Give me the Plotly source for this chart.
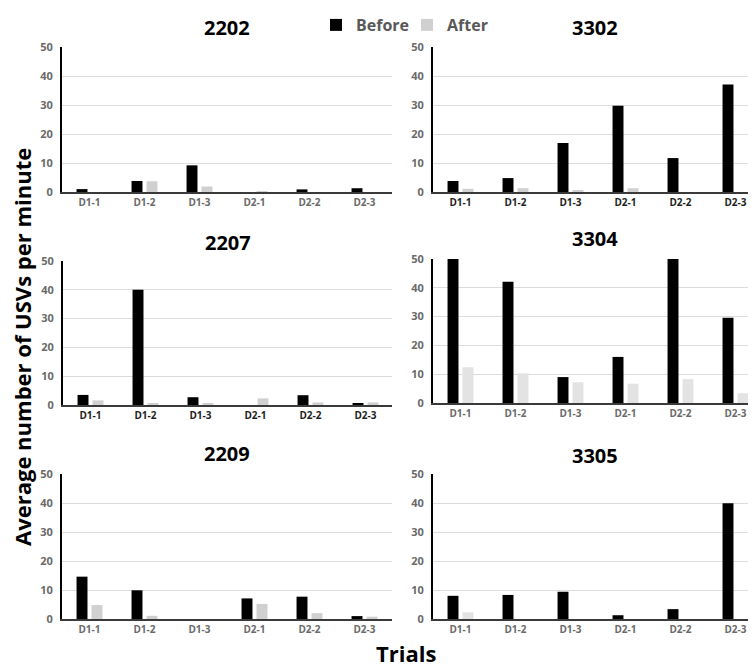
import plotly.graph_objects as go

categories = ["D1-1", "D1-2", "D1-3", "D2-1", "D2-2", "D2-3"]
panel_names = ["2202", "3302", "2207", "3304", "2209", "3305"]

before_2202 = [1.0, 3.8, 9.2, 0.0, 0.9, 1.3]
after_2202 = [0.0, 3.7, 1.9, 0.2, 0.0, 0.0]
before_3302 = [3.8, 4.8, 16.9, 29.7, 11.7, 37.1]
after_3302 = [1.1, 1.3, 0.6, 1.3, 0.0, 0.0]
before_2207 = [3.5, 40.0, 2.7, 0.0, 3.4, 0.5]
after_2207 = [1.6, 0.6, 0.6, 2.3, 0.9, 0.9]
before_3304 = [50.0, 42.1, 9.0, 16.0, 50.0, 29.6]
after_3304 = [12.4, 10.3, 7.2, 6.7, 8.3, 3.4]
before_2209 = [14.6, 9.9, 0.0, 7.1, 7.7, 1.0]
after_2209 = [4.8, 1.1, 0.0, 5.2, 2.0, 0.8]
before_3305 = [8.0, 8.3, 9.4, 1.3, 3.4, 39.9]
after_3305 = [2.3, 0.0, 0.0, 0.0, 0.0, 0.0]

before_all = [before_2202, before_3302, before_2207, before_3304, before_2209, before_3305]
after_all = [after_2202, after_3302, after_2207, after_3304, after_2209, after_3305]
y_ticks = [0, 10, 20, 30, 40, 50]

W, H = 756, 668
FONT = "Open Sans"
OFF = 8  # page body margin offset

# screen pixel geometry: (x0, x1, ytop, ybottom)
geom = [
    (62, 392, 47, 192),
    (433, 756, 47, 192),
    (63, 392, 261, 405),
    (433, 756, 259, 403),
    (62, 392, 474, 619),
    (433, 756, 474, 619),
]
title_y = [27, 27, 242, 238, 453, 455]
after_colors = ["#d0d0d0", "#d0d0d0", "#d0d0d0", "#e3e3e3", "#d0d0d0", "#e3e3e3"]
xtick_colors = ["#6a6a6a", "#1e1e1e", "#1e1e1e", "#6a6a6a", "#6a6a6a", "#6a6a6a"]


def px(x):
    return (x - OFF) / W


def py(y):
    return 1 - (y - OFF) / H


fig = go.Figure()
layout = dict(
    template="none",
    width=W, height=H,
    margin=dict(l=0, r=0, t=0, b=0, autoexpand=False),
    paper_bgcolor="white", plot_bgcolor="white",
    barmode="group", bargap=0.455, bargroupgap=0.27,
    font=dict(family=FONT),
    showlegend=True,
    legend=dict(orientation="h", x=px(316), xanchor="left", y=1, yanchor="top",
                font=dict(family=FONT, size=16, color="#595959"),
                itemwidth=30, entrywidth=46, entrywidthmode="pixels",
                tracegroupgap=0, bgcolor="rgba(0,0,0,0)", borderwidth=0),
)
annotations = []

for i, name in enumerate(panel_names):
    k = "" if i == 0 else str(i + 1)
    x0, x1, yt, yb = geom[i]
    ncat_px = 55.0
    rng_hi = -0.5 + (x1 - x0) / ncat_px
    fig.add_trace(go.Bar(x=categories, y=before_all[i], name="<b>Before</b>",
                         marker=dict(color="#000000", line=dict(width=0)),
                         xaxis="x" + k, yaxis="y" + k, showlegend=(i == 0),
                         legendgroup="b"))
    fig.add_trace(go.Bar(x=categories, y=after_all[i], name="<b>After</b>",
                         marker=dict(color=after_colors[i], line=dict(width=0)),
                         xaxis="x" + k, yaxis="y" + k, showlegend=(i == 0),
                         legendgroup="a"))
    layout["xaxis" + k] = dict(
        domain=[px(x0), px(x1)], anchor="y" + k, type="category",
        range=[-0.5, rng_hi], showline=True, linecolor="#3a3a3a", linewidth=2,
        showgrid=False, ticks="", fixedrange=True, automargin=False,
        tickvals=categories, ticktext=["<b>%s</b>" % c for c in categories],
        tickfont=dict(family=FONT, size=10, color=xtick_colors[i]),
    )
    layout["yaxis" + k] = dict(
        domain=[py(yb), py(yt)], anchor="x" + k,
        range=[0, 50], tickvals=y_ticks, ticktext=["<b>%d</b>" % v for v in y_ticks],
        showline=True, linecolor="#000000",
        linewidth=2, showgrid=True, gridcolor="#dcdcdc", gridwidth=1,
        zeroline=False, ticks="", fixedrange=True, automargin=False,
        ticklabelstandoff=5,
        tickfont=dict(family=FONT, size=11, color="#6a6a6a"),
    )
    annotations.append(dict(text="<b>%s</b>" % name, x=px((x0 + min(x1, x0 + 330)) / 2),
                            y=py(title_y[i]), xref="paper", yref="paper",
                            showarrow=False, xanchor="center", yanchor="middle",
                            font=dict(family=FONT, size=20, color="#000000")))

annotations.append(dict(text="<b>Average number of USVs per minute</b>", textangle=-90,
                        x=-3 / W, y=py(347), xref="paper", yref="paper",
                        showarrow=False, xanchor="left", yanchor="middle",
                        font=dict(family=FONT, size=22, color="#000000")))
annotations.append(dict(text="<b>Trials</b>", x=px(406), y=py(653),
                        xref="paper", yref="paper", showarrow=False,
                        xanchor="center", yanchor="middle",
                        font=dict(family=FONT, size=22, color="#000000")))
layout["annotations"] = annotations
fig.update_layout(**layout)
fig.write_html("out.html")
